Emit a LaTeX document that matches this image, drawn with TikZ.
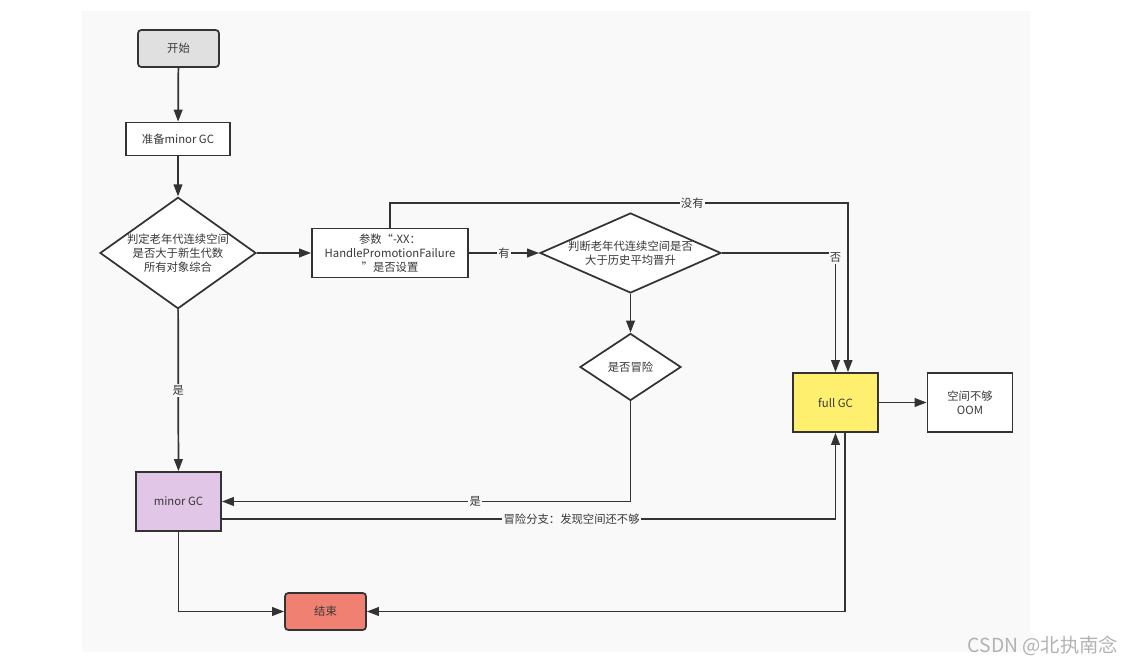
\documentclass[tikz,border=0pt]{standalone}
\usepackage{fontspec}
\setmainfont{Noto Sans CJK SC}
\usetikzlibrary{shapes.geometric,arrows.meta}
\definecolor{lineclr}{HTML}{333333}
\definecolor{txtclr}{HTML}{383838}
\definecolor{bgclr}{HTML}{F9F9F9}
\definecolor{startclr}{HTML}{E0E0E0}
\definecolor{minorclr}{HTML}{E2C6E8}
\definecolor{fullclr}{HTML}{FFEF6E}
\definecolor{endclr}{HTML}{F08172}
\newdimen\pxu \pxu=0.75pt
\begin{document}
\begin{tikzpicture}[x=0.75pt,y=-0.75pt]

	\tikzset{box/.style={draw=lineclr, line width=1.3pt, minimum width=104\pxu, minimum height=33\pxu,
			text=txtclr, align=center, inner sep=1pt, font=\fontsize{8.5}{10.5}\selectfont},
		rbox/.style={box, rounded corners=2.5pt, minimum width=81\pxu, minimum height=37\pxu},
		bigbox/.style={box, minimum width=85\pxu, minimum height=59\pxu},
		dia/.style={draw=lineclr, line width=1.3pt, diamond, text=txtclr, align=center, inner sep=0pt,
			font=\fontsize{8.5}{10.5}\selectfont},
		flow/.style={draw=lineclr, line width=1.3pt, -{Triangle[length=9pt,width=6.5pt]}},
		lbl/.style={fill=bgclr, text=txtclr, inner sep=1pt, font=\fontsize{8.5}{10.5}\selectfont}}

	\useasboundingbox (0,0) rectangle (1129,666);
	\fill[bgclr] (82,11) rectangle (1030,652);

	\node[rbox, fill=startclr] (start) at (178.5,48.5) {开始};
	\node[box, fill=white] (prep) at (178,139) {准备minor GC};
	\node[dia, fill=white, aspect=1.4, minimum width=153\pxu, minimum height=108\pxu] (judge1) at (178,253)
		{判定老年代连续空间\\是否大于新生代数\\所有对象综合};
	\node[box, fill=white, minimum width=156\pxu, minimum height=49\pxu] (param) at (390,253)
		{参数“-XX：\\HandlePromotionFailure\\”是否设置};
	\node[dia, fill=white, aspect=2.26, minimum width=181\pxu, minimum height=80\pxu] (judge2) at (630.5,253)
		{判断老年代连续空间是否\\大于历史平均晋升};
	\node[dia, fill=white, aspect=1.5, minimum width=101\pxu, minimum height=67\pxu] (risk) at (630.5,367) {是否冒险};
	\node[bigbox, fill=fullclr] (fullgc) at (835.5,402.5) {full GC};
	\node[bigbox, fill=white] (oom) at (970,402.5) {空间不够\\OOM};
	\node[bigbox, fill=minorclr] (minor) at (178.5,501.5) {minor GC};
	\node[rbox, fill=endclr] (end) at (325.5,611.5) {结束};
	\coordinate (nt) at (848,203);

	\draw[flow] (start) -- (prep);
	\draw[flow] (prep) -- (judge1);
	\draw[flow] (judge1) -- (param);
	\draw[flow] (judge1) -- node[lbl]{是} (minor);
	\draw[flow] (param) -- node[lbl]{有} (judge2);
	\draw[flow] (param.north) |- node[lbl, pos=0.83]{没有} (nt) -- (nt |- fullgc.north);
	\draw[flow] (judge2.east) -| node[lbl, pos=0.52]{否} (fullgc.north);
	\draw[flow] (judge2) -- (risk);
	\draw[flow] (risk.south) |- node[lbl, pos=0.69]{是} (minor.east);
	\draw[flow] ([yshift=-13pt]minor.east) -| node[lbl, pos=0.285]{冒险分支：发现空间还不够} (fullgc.south);
	\draw[flow] (fullgc) -- (oom);
	\draw[flow] (minor.south) |- (end.west);
	\draw[flow] ([xshift=7pt]fullgc.south) |- (end.east);

	\node[text=black!30, font=\fontsize{14.5}{16}\selectfont] (mark) at (1043,646) {CSDN @北执南念};

\end{tikzpicture}
\end{document}
